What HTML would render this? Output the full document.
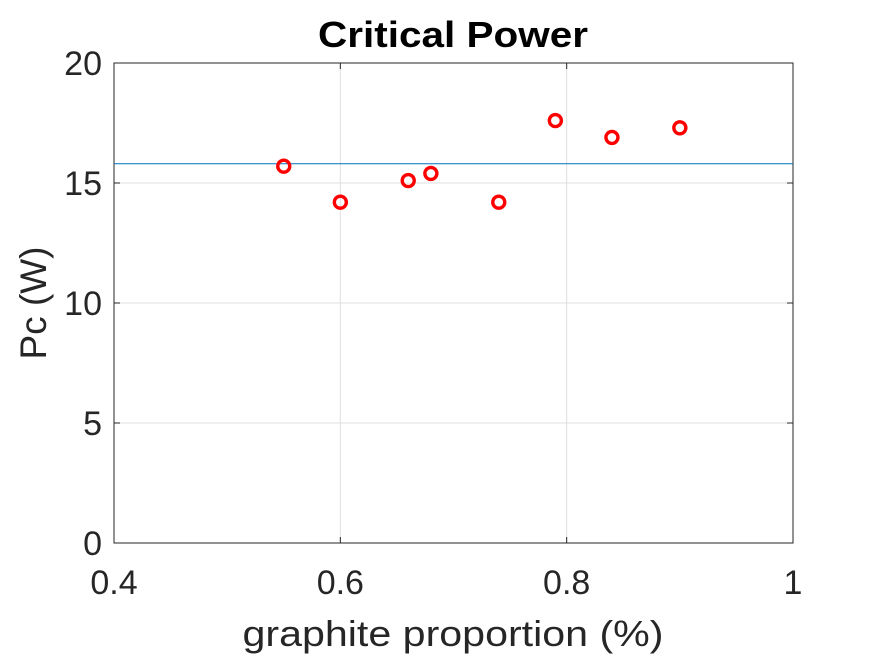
<!DOCTYPE html>
<html><head><meta charset="utf-8"><style>body{margin:0;background:#fff}svg{display:block}text{font-family:"Liberation Sans",sans-serif;fill:#262626}</style></head>
<body>
<svg id="chart" width="875" height="656">
<rect width="875" height="656" fill="#fff"/>
<g id="grid"></g>
<rect x="114" y="63" width="679" height="480" fill="none" stroke="#262626" stroke-width="1"/>
<g id="ticks"></g>
<g id="marks"></g>
<text x="453" y="47" text-anchor="middle" font-size="36" font-weight="bold" textLength="270" lengthAdjust="spacingAndGlyphs" style="fill:#000">Critical Power</text>
<text x="453" y="646" text-anchor="middle" font-size="36" textLength="421" lengthAdjust="spacingAndGlyphs">graphite proportion (%)</text>
<text transform="translate(46,303) rotate(-90)" text-anchor="middle" font-size="37">Pc (W)</text>
</svg>
<script>
const xValues=[0.55,0.60,0.66,0.68,0.74,0.79,0.84,0.90];
const yValues=[15.7,14.2,15.1,15.4,14.2,17.6,16.9,17.3];
const meanValue=[15.8];
const xTicks=[0.4,0.6,0.8,1];
const xTickLabels=["0.4","0.6","0.8","1"];
const yTicks=[0,5,10,15,20];
const yTickLabels=["0","5","10","15","20"];
const NS="http://www.w3.org/2000/svg";
const X=v=>114+(v-0.4)/0.6*679, Y=v=>543-v/20*480;
function mk(t,a,p){const e=document.createElementNS(NS,t);for(const k in a)e.setAttribute(k,a[k]);p.appendChild(e);return e;}
const g=document.getElementById('grid'),tk=document.getElementById('ticks'),m=document.getElementById('marks');
xTicks.forEach((v,i)=>{
 const l=mk('line',{x1:X(v),x2:X(v),y1:63,y2:543,stroke:'#dfdfdf'},g);
 
 
 mk('line',{x1:X(v),x2:X(v),y1:543,y2:537,stroke:'#262626'},tk);
 mk('line',{x1:X(v),x2:X(v),y1:63,y2:69,stroke:'#262626'},tk);
 const t=mk('text',{x:X(v),y:594,'text-anchor':'middle','font-size':'34'},tk);t.textContent=xTickLabels[i];
 
 
});
yTicks.forEach((v,i)=>{
 const l=mk('line',{x1:114,x2:793,y1:Y(v),y2:Y(v),stroke:'#dfdfdf'},g);
 
 
 mk('line',{x1:114,x2:120,y1:Y(v),y2:Y(v),stroke:'#262626'},tk);
 mk('line',{x1:793,x2:787,y1:Y(v),y2:Y(v),stroke:'#262626'},tk);
 const t=mk('text',{x:102,y:Y(v)+12,'text-anchor':'end','font-size':'34'},tk);t.textContent=yTickLabels[i];
 
 
});
const ml=mk('line',{x1:114,x2:793,y1:Y(meanValue[0]),y2:Y(meanValue[0]),stroke:'#0072bd','stroke-width':1},m);


xValues.forEach((v,i)=>{
 const c=mk('circle',{cx:X(v),cy:Y(yValues[i]),r:6,fill:'none',stroke:'#ff0000','stroke-width':3.4},m);
 
 
});
</script>
</body></html>
